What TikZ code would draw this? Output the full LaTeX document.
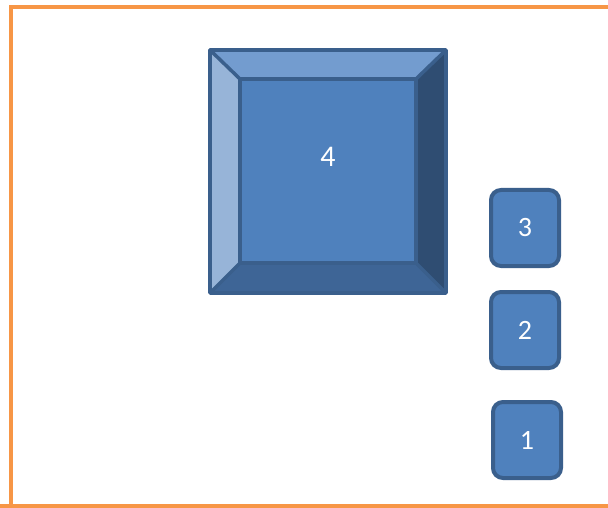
\documentclass[tikz,border=0pt]{standalone}
\usepackage{fontspec}
\setmainfont{Carlito}
\definecolor{orangeline}{HTML}{F79646}
\definecolor{face}{HTML}{4F81BD}
\definecolor{edge}{HTML}{3A5F8C}
\definecolor{bevtop}{HTML}{739CCF}
\definecolor{bevleft}{HTML}{97B4D8}
\definecolor{bevright}{HTML}{2F4D72}
\definecolor{bevbottom}{HTML}{3E6596}
\tikzset{
  smallbox/.style={draw=edge, fill=face, line width=4pt, rounded corners=10pt,
    minimum width=68pt, minimum height=76pt, inner sep=0pt, text=white, font=\fontsize{28}{32}\selectfont},
  bevelline/.style={draw=edge, line width=3.5pt, line join=round}
}
\begin{document}
\begin{tikzpicture}[x=1pt,y=-1pt]
\useasboundingbox (0,0) rectangle (608,508);
\fill[white] (0,0) rectangle (608,508);
\draw[orangeline, line width=4.5pt] (11,520) -- (11,7) -- (620,7);
\draw[orangeline, line width=4.5pt] (0,506) -- (620,506);
% big bevelled square
\coordinate (o1) at (210,50);
\coordinate (o2) at (446,50);
\coordinate (o3) at (446,293);
\coordinate (o4) at (210,293);
\coordinate (i1) at (240,79);
\coordinate (i2) at (416,79);
\coordinate (i3) at (416,263);
\coordinate (i4) at (240,263);
\fill[bevtop] (o1) -- (o2) -- (i2) -- (i1) -- cycle;
\fill[bevleft] (o1) -- (i1) -- (i4) -- (o4) -- cycle;
\fill[bevright] (o2) -- (o3) -- (i3) -- (i2) -- cycle;
\fill[bevbottom] (o4) -- (i4) -- (i3) -- (o3) -- cycle;
\node[fill=face, minimum width=176pt, minimum height=184pt, inner sep=0pt,
  anchor=north west] (sq4) at (i1) {};
\node[text=white, font=\fontsize{30}{34}\selectfont] (lbl4) at (328,157) {4};
\draw[bevelline] (o1) -- (i1) (o2) -- (i2) (o3) -- (i3) (o4) -- (i4);
\draw[bevelline] (i1) rectangle (i3);
\draw[bevelline] (o1) rectangle (o3);
% small boxes
\node[smallbox] (b3) at (525,228) {3};
\node[smallbox] (b2) at (525,330) {2};
\node[smallbox] (b1) at (527,440) {1};
\end{tikzpicture}
\end{document}
